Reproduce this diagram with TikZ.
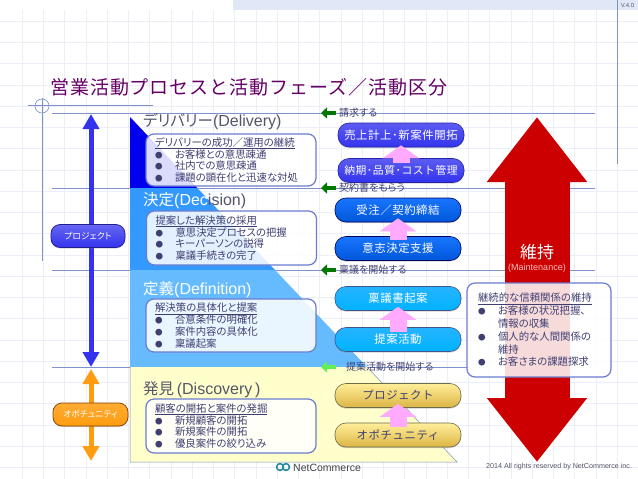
\documentclass[tikz,border=0pt]{standalone}
\usepackage{fontspec}
\usepackage{xcolor}
\usetikzlibrary{arrows.meta,shadows}
\setmainfont{Liberation Sans}
\newfontfamily\jp[RawFeature=+palt]{Noto Sans CJK JP}
\newfontfamily\jpwide[LetterSpace=5]{Noto Sans CJK JP}
\definecolor{ncGrid}{HTML}{ECEFF9}
\definecolor{ncBand}{HTML}{E0E8F7}
\definecolor{ncRule}{HTML}{7F92CC}
\definecolor{ncTitle}{HTML}{660066}
\definecolor{ncInk}{HTML}{3F3F72}
\definecolor{ncHead}{HTML}{55566A}
\definecolor{ncBorder}{HTML}{6A7CD0}
\definecolor{ncDelivery}{HTML}{0000EE}
\definecolor{ncDecision}{HTML}{3399FF}
\definecolor{ncDefinition}{HTML}{66BBFF}
\definecolor{ncDiscovery}{HTML}{FFFFCC}
\definecolor{ncBlue}{HTML}{3333EE}
\definecolor{ncOrange}{HTML}{FF9C10}
\definecolor{ncRed}{HTML}{CC0000}
\definecolor{ncPink}{HTML}{FFAAFF}
\definecolor{ncGreen}{HTML}{007700}
\definecolor{ncLime}{HTML}{66EE55}
\definecolor{ncTeal}{HTML}{2A8C9C}
\definecolor{ncGoldTop}{HTML}{FFEE99}
\definecolor{ncGoldEnd}{HTML}{DDB545}
\newcommand{\ncdot}{\makebox[20pt][l]{\textcolor{ncInk}{\fontsize{7.5}{7.5}\jp ●}}}
\tikzset{
  nc grid/.style={draw=ncGrid, line width=0.5pt},
  nc rule/.style={draw=ncRule, line width=0.6pt},
  nc heavy rule/.style={draw=ncRule, line width=1pt},
  nc head/.style={anchor=base west, inner sep=0pt, text=ncHead,
    font=\fontsize{15.5}{18}\jp},
  nc info/.style={draw=ncBorder, fill=white, fill opacity=0.86, text opacity=1,
    line width=1.2pt, rounded corners=8pt, align=left, text=ncInk,
    inner xsep=9pt, inner ysep=2pt, text width=152pt, font=\fontsize{10.4}{11.8}\jp},
  nc pill/.style={rounded corners=11pt, minimum width=126pt, minimum height=24pt,
    inner sep=0pt, text=white, line width=0.6pt, font=\fontsize{11.4}{13}\jpwide,
    drop shadow={shadow xshift=0pt, shadow yshift=-1.2pt, opacity=0.35}},
  nc deep pill/.style={nc pill, draw=ncBlue!70!black, top color=ncBlue!80!white, bottom color=ncBlue},
  nc mid pill/.style={nc pill, draw=blue!40!black, top color=cyan!40!blue!90!white, bottom color=cyan!40!blue!85!black},
  nc sky pill/.style={nc pill, draw=cyan!30!blue!70!black, top color=cyan!65!blue!85!white, bottom color=cyan!70!blue},
  nc gold pill/.style={nc pill, draw=yellow!35!black, top color=ncGoldTop, bottom color=ncGoldEnd, text=ncInk},
  nc side/.style={minimum height=23pt, inner sep=0pt, text=white, rounded corners=9pt,
    line width=0.7pt, font=\fontsize{8.8}{10}\jp,
    drop shadow={shadow xshift=0pt, shadow yshift=-1pt, opacity=0.35}},
  nc up/.style={-{Triangle[length=13pt, width=36pt]}, draw=ncPink, line width=17pt},
  nc back/.style={-{Triangle[length=6pt, width=11pt]}, draw=ncGreen, line width=4pt},
  nc label/.style={anchor=west, inner sep=0pt, text=ncInk, font=\fontsize{10}{12}\jp},
  nc span/.style={{Triangle[length=15pt, width=16pt]}-{Triangle[length=15pt, width=16pt]}, line width=5pt}
}
\begin{document}
\begin{tikzpicture}[x=1pt, y=-1pt]
\useasboundingbox (0,0) rectangle (638,479);
\fill[white] (0,0) rectangle (638,479);
\foreach \k in {0,...,28} \draw[nc grid] (22+21.25*\k,10) -- (22+21.25*\k,479);
\foreach \k in {0,...,21} \draw[nc grid] (0,21+21.25*\k) -- (638,21+21.25*\k);
\fill[ncBand] (233,0) rectangle (638,10);
\draw[nc heavy rule] (617,0) -- (617,164);
\node[inner sep=0pt, text=ncHead, font=\fontsize{6}{7}\selectfont] (version) at (627.5,5) {V.4.0};
\node[anchor=west, inner sep=0pt, text=ncTitle, font=\fontsize{19}{22}\jpwide] (title) at (50,87)
  {営業活動プロセスと活動フェーズ／活動区分};
\draw[nc rule] (28,105) -- (153,105);
\draw[nc rule] (42,98) -- (42,261);
\draw[nc rule] (42,106) circle (7);
\foreach \y/\e in {113/595,188/595,270/595,367/470} \draw[nc rule] (52,\y) -- (\e,\y);
\begin{scope}
\clip (130,117) -- (457,462) -- (130,462) -- cycle;
\fill[ncDelivery] (130,113) rectangle (460,188);
\fill[ncDecision] (130,188) rectangle (460,270);
\fill[ncDefinition] (130,270) rectangle (460,367);
\fill[ncDiscovery] (130,367) rectangle (460,462);
\end{scope}
\draw[ncRule!70!gray, line width=0.5pt] (130,367) -- (130,462) -- (457,462) -- (367,367);
\node[nc head] (deliveryHead) at (143,126) {デリバリー{\rmfamily\fontsize{16}{18}\selectfont (Delivery)}};
\node[nc head, text=white] (decisionHead) at (143,205) {決定{\rmfamily\fontsize{16}{18}\selectfont (Dec\textcolor{ncHead}{ision)}}};
\node[nc head, text=white] (definitionHead) at (143,294) {定義{\rmfamily\fontsize{16}{18}\selectfont (Definition)}};
\node[nc head] (discoveryHead) at (143,394) {発見{\rmfamily\fontsize{16}{18}\selectfont\,(Discovery\,)}};
\node[nc info, minimum width=170pt, minimum height=52pt] (deliveryBox) at (231,160) {%
  \underline{デリバリーの成功／運用の継続}\\
  \ncdot お客様との意思疎通\\
  \ncdot 社内での意思疎通\\
  \ncdot 課題の顕在化と迅速な対処};
\node[nc info, minimum width=169pt, minimum height=54pt] (decisionBox) at (231.5,238) {%
  \underline{提案した解決策の採用}\\
  \ncdot 意思決定プロセスの把握\\
  \ncdot キーパーソンの説得\\
  \ncdot 稟議手続きの完了};
\node[nc info, minimum width=170pt, minimum height=53pt] (definitionBox) at (231,325.5) {%
  \underline{解決策の具体化と提案}\\
  \ncdot 合意条件の明確化\\
  \ncdot 案件内容の具体化\\
  \ncdot 稟議起案};
\node[nc info, minimum width=170pt, minimum height=54pt] (discoveryBox) at (231,426) {%
  \underline{顧客の開拓と案件の発掘}\\
  \ncdot 新規顧客の開拓\\
  \ncdot 新規案件の開拓\\
  \ncdot 優良案件の絞り込み};
\coordinate (projectTop) at (91,114);
\coordinate (projectEnd) at (91,367);
\coordinate (chanceTop) at (91,369);
\coordinate (chanceEnd) at (91,461);
\draw[nc span, draw=ncBlue] (projectTop) -- (projectEnd);
\draw[nc span, draw=ncOrange] (chanceTop) -- (chanceEnd);
\node[nc side, minimum width=74pt, draw=ncBlue!60!black, top color=ncBlue!75!white, bottom color=ncBlue] (projectTag) at (88,236) {プロジェクト};
\node[nc side, minimum width=75pt, draw=orange!50!black, top color=ncOrange!85!white, bottom color=ncOrange] (chanceTag) at (90.5,414.5) {オポチュニティ};
\coordinate (redTop) at (537,117);
\coordinate (redEnd) at (537,462);
\draw[{Triangle[length=65pt, width=96pt]}-{Triangle[length=64pt, width=96pt]}, draw=ncRed, line width=65pt] (redTop) -- (redEnd);
\node[inner sep=0pt, text=white, font=\fontsize{17}{20}\jp] (keepHead) at (537,252) {維持};
\node[inner sep=0pt, text=white!75!ncRed, font=\fontsize{9}{10}\selectfont] (keepSub) at (537,268) {(Maintenance)};
\node[nc deep pill] (sales) at (401,135) {売上計上･新案件開拓};
\node[nc deep pill, font=\fontsize{10.8}{13}\jpwide] (delivery) at (401,170.5) {納期･品質･コスト管理};
\node[nc mid pill] (order) at (398,210) {受注／契約締結};
\node[nc mid pill] (decide) at (398,248.5) {意志決定支援};
\node[nc sky pill] (draft) at (398,298.5) {稟議書起案};
\node[nc sky pill] (propose) at (398,339.5) {提案活動};
\node[nc gold pill] (project) at (398,395.5) {プロジェクト};
\node[nc gold pill] (chance) at (398,435) {オポチュニティ};
\draw[nc up] ([yshift=-5pt]delivery.north) -- ([yshift=2pt]sales.south);
\draw[nc up] ([yshift=-4pt]decide.north) -- ([yshift=4pt]order.south);
\draw[nc up] ([yshift=-5pt]propose.north) -- ([yshift=4pt]draft.south);
\draw[nc up] ([yshift=-4pt]chance.north) -- ([yshift=4pt]project.south);
\foreach \y/\n in {113/a,188/b,270/c} {
  \coordinate (from\n) at (336,\y);
  \coordinate (to\n) at (321,\y);
  \draw[nc back] (from\n) -- (to\n);
}
\coordinate (fromd) at (336,367);
\coordinate (tod) at (321,367);
\draw[nc back, draw=ncLime] (fromd) -- (tod);
\node[nc label] (billNote) at (339,113) {請求する};
\node[nc label] (contractNote) at (339,188) {契約書をもらう};
\node[nc label] (approvalNote) at (339,270) {稟議を開始する};
\node[nc label] (proposalNote) at (346,367) {提案活動を開始する};
\node[nc info, inner xsep=11pt, text width=122pt, minimum width=144pt, minimum height=94pt, font=\fontsize{10.4}{12.8}\jp] (keepBox) at (539,330) {%
  \underline{継続的な信頼関係の維持}\\
  \ncdot お客様の状況把握、\\
  \hspace{20pt}情報の収集\\
  \ncdot 個人的な人間関係の\\
  \hspace{20pt}維持\\
  \ncdot お客さまの課題探求};
\draw[ncTeal, line width=1.6pt] (280,467) circle (3.4) (286,467) circle (3.4);
\node[anchor=west, inner sep=0pt, text=black!75, font=\fontsize{10.5}{12}\selectfont] (brand) at (293,468) {NetCommerce};
\node[anchor=west, inner sep=0pt, text=ncHead, font=\fontsize{7.15}{8}\selectfont] (rights) at (486,467) {2014 All rights reserved by NetCommerce inc.};
\end{tikzpicture}
\end{document}
